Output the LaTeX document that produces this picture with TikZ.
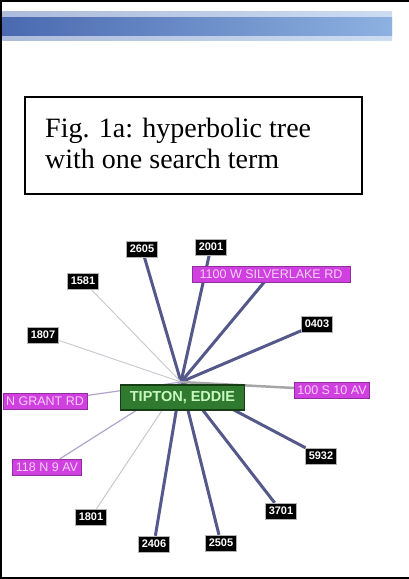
\documentclass[tikz,border=0pt]{standalone}
\usepackage{fontspec}
\setmainfont{Liberation Serif}
\setsansfont{Liberation Sans}
\usetikzlibrary{backgrounds}
\definecolor{barleft}{HTML}{4A69B0}
\definecolor{barright}{HTML}{8DB1E0}
\definecolor{edgeblue}{HTML}{55588A}
\definecolor{edgegray}{HTML}{CACAD2}
\definecolor{edgelilac}{HTML}{B0A4CC}
\definecolor{addrfill}{HTML}{D040E0}
\definecolor{addrtext}{HTML}{F6D2F6}
\definecolor{hubfill}{HTML}{2F7A2F}
\definecolor{hubtext}{HTML}{C8F8C0}

\begin{document}
\begin{tikzpicture}[x=1pt, y=-1pt,
  idbox/.style={fill=black, draw=gray!60, text=white, font=\sffamily\bfseries\fontsize{11}{11}\selectfont,
    minimum width=31pt, minimum height=16pt, inner sep=1pt},
  addrbox/.style={fill=addrfill, draw=addrfill!70!black, text=addrtext, font=\sffamily\fontsize{12.5}{12.5}\selectfont,
    minimum height=16pt, inner sep=1pt},
  hubbox/.style={fill=hubfill, draw=hubfill!50!black, line width=1.5pt, text=hubtext,
    font=\sffamily\bfseries\fontsize{14.5}{14.5}\selectfont, minimum width=124pt, minimum height=25pt, inner sep=1pt},
  thickedge/.style={edgeblue, line width=3pt},
  thinedge/.style={edgegray, line width=1pt}]
\useasboundingbox (0,0) rectangle (409,579);

% Frame (left, top, bottom)
\draw[line width=2pt] (0,1) -- (409,1);
\draw[line width=2pt] (0,578) -- (409,578);
\draw[line width=2pt] (1,0) -- (1,579);

% Title bar
\shade[left color=barleft!45!white, right color=barright!45!white] (2,11) rectangle (392,40);
\shade[left color=barleft, right color=barright] (2,17) rectangle (392,35);

% Caption box
\draw[line width=1.2pt] (25,97) rectangle (362,194);
\node[anchor=base west, inner sep=0pt, align=left, font=\fontsize{28}{31}\selectfont] (caption)
  at (45,168) {Fig. 1a: hyperbolic tree\\with one search term};

% Tree
\coordinate (hub) at (181,382);
\node[hubbox] (tipton) at (182.5,397.5) {TIPTON, EDDIE};

% Ids
\node[idbox] (n2605) at (142,249) {2605};
\node[idbox] (n2001) at (211,247) {2001};
\node[idbox] (n1581) at (83,281) {1581};
\node[idbox] (n1807) at (43,335) {1807};
\node[idbox] (n0403) at (317,324) {0403};
\node[idbox] (n5932) at (321,456) {5932};
\node[idbox] (n3701) at (281,511) {3701};
\node[idbox] (n1801) at (91,517) {1801};
\node[idbox] (n2406) at (154,544) {2406};
\node[idbox] (n2505) at (221,543) {2505};

% Addresses
\node[addrbox, minimum width=158pt] (silver) at (271,274) {1100 W SILVERLAKE RD};
\node[addrbox, minimum width=75pt] (tenav) at (332,390) {100 S 10 AV};
\node[addrbox, minimum width=84pt] (grant) at (45,401.5) {N GRANT RD};
\node[addrbox, minimum width=69pt] (nineav) at (47,467) {118 N 9 AV};

% Edges
\begin{scope}[on background layer]
\foreach \leaf in {n2605, n2001, silver, n0403, n5932, n3701, n2505, n2406}
  \draw[thickedge] (hub) -- (\leaf);
\foreach \leaf in {n1581, n1807, n1801}
  \draw[thinedge] (hub) -- (\leaf);
\draw[gray!70, line width=2.5pt] (hub) -- (tenav);
\draw[edgelilac, line width=1.2pt] (hub) -- (grant);
\draw[edgelilac, line width=1.2pt] (hub) -- (nineav);
\end{scope}

\end{tikzpicture}
\end{document}
